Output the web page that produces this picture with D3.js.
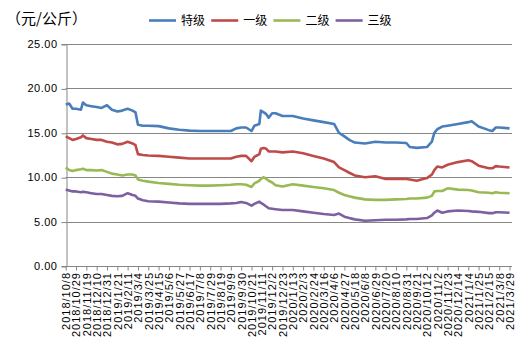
<!DOCTYPE html>
<html>
<head>
<meta charset="utf-8">
<script src="https://cdn.jsdelivr.net/npm/d3@7"></script>
<style>
  body { margin: 0; background: #fff; }
  svg { display: block; }
</style>
</head>
<body>
<div id="chart"></div>
<script>
// sample dates (price series)
const dates = [
  "2018/10/8","2018/10/15","2018/10/22","2018/10/29","2018/11/8","2018/11/12","2018/11/19","2018/11/29",
  "2018/12/10","2018/12/20","2018/12/31","2019/1/10","2019/1/21","2019/1/31","2019/2/11","2019/2/21",
  "2019/2/27","2019/3/4","2019/3/14","2019/3/25","2019/4/15","2019/5/6","2019/5/27","2019/6/17",
  "2019/7/8","2019/7/29","2019/8/19","2019/9/9","2019/9/20","2019/9/30","2019/10/10","2019/10/21",
  "2019/10/27","2019/11/6","2019/11/9","2019/11/15","2019/11/20","2019/11/25","2019/12/2","2019/12/9",
  "2019/12/23","2020/1/13","2020/2/3","2020/2/24","2020/3/16","2020/4/6","2020/4/16","2020/4/27",
  "2020/5/7","2020/5/18","2020/6/8","2020/6/29","2020/7/20","2020/8/10","2020/8/31","2020/9/7",
  "2020/9/21","2020/10/12","2020/10/22","2020/10/27","2020/11/2","2020/11/12","2020/11/23","2020/12/14",
  "2021/1/4","2021/1/11","2021/1/25","2021/2/15","2021/2/22","2021/3/1","2021/3/8","2021/3/29"
];

const teji = [
  18.2,18.3,17.7,17.7,17.6,18.4,18.1,18.0,
  17.9,17.8,18.1,17.6,17.4,17.5,17.7,17.5,
  17.3,15.9,15.8,15.8,15.75,15.5,15.35,15.25,
  15.2,15.2,15.2,15.2,15.5,15.6,15.6,15.2,
  15.8,16.0,17.5,17.3,17.1,16.7,17.2,17.2,
  16.9,16.9,16.6,16.4,16.2,16.0,15.0,14.6,
  14.2,13.9,13.8,14.0,13.9,13.9,13.85,13.4,
  13.3,13.4,14.0,15.0,15.4,15.7,15.8,16.0,
  16.2,16.3,15.7,15.3,15.2,15.6,15.6,15.5
];

const yiji = [
  14.6,14.4,14.2,14.3,14.5,14.7,14.4,14.3,
  14.2,14.2,14.0,13.9,13.7,13.75,14.0,13.8,
  13.6,12.6,12.5,12.45,12.4,12.3,12.2,12.1,
  12.1,12.1,12.1,12.1,12.3,12.4,12.4,11.8,
  12.3,12.6,13.2,13.3,13.2,12.9,12.9,12.9,
  12.8,12.9,12.7,12.4,12.1,11.7,11.1,10.8,
  10.5,10.2,10.0,10.1,9.8,9.8,9.8,9.75,
  9.6,9.9,10.3,10.8,11.2,11.1,11.4,11.7,
  11.9,11.8,11.3,11.0,11.0,11.25,11.2,11.1
];

const erji = [
  11.1,10.8,10.7,10.8,10.9,10.95,10.8,10.8,
  10.75,10.8,10.6,10.4,10.3,10.2,10.3,10.3,
  10.2,9.75,9.6,9.5,9.35,9.25,9.15,9.1,
  9.05,9.05,9.1,9.15,9.2,9.2,9.15,8.9,
  9.3,9.6,9.8,10.0,9.8,9.6,9.4,9.1,
  8.95,9.2,9.05,8.9,8.75,8.55,8.25,8.0,
  7.85,7.7,7.5,7.45,7.45,7.5,7.55,7.6,
  7.6,7.7,7.9,8.4,8.45,8.45,8.75,8.6,
  8.55,8.5,8.3,8.25,8.2,8.3,8.25,8.2
];

const sanji = [
  8.6,8.5,8.4,8.4,8.3,8.35,8.3,8.2,
  8.1,8.1,8.0,7.9,7.85,7.9,8.2,8.0,
  7.9,7.6,7.4,7.3,7.25,7.15,7.05,7.0,
  7.0,7.0,7.0,7.05,7.1,7.2,7.1,6.8,
  7.0,7.25,7.1,6.9,6.7,6.5,6.45,6.4,
  6.3,6.3,6.15,6.0,5.85,5.75,5.9,5.55,
  5.4,5.25,5.1,5.15,5.2,5.2,5.25,5.3,
  5.3,5.4,5.7,6.0,6.25,6.0,6.15,6.25,
  6.2,6.15,6.1,5.95,5.95,6.05,6.05,6.0
];

const seriesNames = ["特级", "一级", "二级", "三级"];
const seriesColors = ["#4a7ebb", "#be4b48", "#98b954", "#7d60a0"];

// x tick labels, every 21 days
const tickLabels = [
  "2018/10/8","2018/10/29","2018/11/19","2018/12/10","2018/12/31","2019/1/21","2019/2/11","2019/3/4",
  "2019/3/25","2019/4/15","2019/5/6","2019/5/27","2019/6/17","2019/7/8","2019/7/29","2019/8/19",
  "2019/9/9","2019/9/30","2019/10/21","2019/11/11","2019/12/2","2019/12/23","2020/1/13","2020/2/3",
  "2020/2/24","2020/3/16","2020/4/6","2020/4/27","2020/5/18","2020/6/8","2020/6/29","2020/7/20",
  "2020/8/10","2020/8/31","2020/9/21","2020/10/12","2020/11/2","2020/11/23","2020/12/14","2021/1/4",
  "2021/1/25","2021/2/15","2021/3/8","2021/3/29"
];
const yTicks = [0, 5, 10, 15, 20, 25];

const width = 528, height = 354;
const parse = d3.timeParse("%Y/%m/%d");

const svg = d3.select("#chart")
  .append("svg")
    .attr("width", width)
    .attr("height", height);

const x = d3.scaleTime()
  .domain([parse("2018/10/8"), parse("2021/4/3")])
  .range([65.7, 512]);

const y = d3.scaleLinear()
  .domain([0, 25])
  .range([266, 44]);

const grey = "#868686";

// horizontal grid
svg.append("g")
  .selectAll("line")
  .data(yTicks.slice(1))
  .join("line")
    .attr("x1", x.range()[0])
    .attr("x2", x.range()[1])
    .attr("y1", d => Math.round(y(d)) + 0.5)
    .attr("y2", d => Math.round(y(d)) + 0.5)
    .attr("stroke", grey)
    .attr("stroke-width", 1);

// y axis
const yAxis = svg.append("g")
  .attr("transform", `translate(${Math.round(x.range()[0]) + 0.5},0)`)
  .call(d3.axisLeft(y).tickValues(yTicks).tickFormat(d3.format(".2f")).tickSize(5).tickPadding(4));
yAxis.select(".domain").attr("stroke", grey);
yAxis.selectAll(".tick line").attr("stroke", grey).attr("transform", "translate(0,0.5)");
yAxis.selectAll("text")
  .attr("font-family", "'Liberation Sans', Arial, sans-serif")
  .attr("font-size", "11px")
  .attr("letter-spacing", "0.5px")
  .attr("fill", "#000");

// x axis
const xAxis = svg.append("g")
  .attr("transform", `translate(0,${Math.round(y(0)) + 0.5})`)
  .call(d3.axisBottom(x).tickValues(tickLabels.map(parse)).tickSize(4).tickFormat(""));
xAxis.select(".domain").attr("stroke", grey).attr("d", `M${x.range()[0]},0H${x.range()[1]}`);
xAxis.selectAll(".tick line").attr("stroke", grey);

svg.append("g")
  .selectAll("text")
  .data(tickLabels)
  .join("text")
    .attr("transform", d => `translate(${x(parse(d)) + 0.5},${Math.round(y(0)) + 6}) rotate(-90)`)
    .attr("text-anchor", "end")
    .attr("dy", "0.35em")
    .attr("font-family", "'Liberation Sans', Arial, sans-serif")
    .attr("font-size", "11px")
    .attr("letter-spacing", "1px")
    .attr("fill", "#000")
    .text(d => d);

// lines
const allSeries = [teji, yiji, erji, sanji];
const line = d3.line()
  .x((d, i) => x(parse(dates[i])))
  .y(d => y(d));

svg.append("g")
  .selectAll("path")
  .data(allSeries)
  .join("path")
    .attr("fill", "none")
    .attr("stroke", (d, i) => seriesColors[i])
    .attr("stroke-width", 2.6)
    .attr("stroke-linejoin", "round")
    .attr("d", line);

// unit title
svg.append("text")
  .attr("x", 6)
  .attr("y", 24)
  .attr("font-family", "'Noto Sans CJK SC', sans-serif")
  .attr("font-size", "15px")
  .attr("fill", "#000")
  .text("（元/公斤）");

// legend
const legend = svg.append("g")
  .selectAll("g")
  .data(seriesNames)
  .join("g")
    .attr("transform", (d, i) => `translate(${149 + i * 62.2},20.5)`);
legend.append("line")
  .attr("x1", 0).attr("x2", 27)
  .attr("stroke", (d, i) => seriesColors[i])
  .attr("stroke-width", 2.6);
legend.append("text")
  .attr("x", 32)
  .attr("dy", "0.36em")
  .attr("font-family", "'Noto Sans CJK SC', sans-serif")
  .attr("font-size", "12px")
  .attr("fill", "#000")
  .text(d => d);
</script>
</body>
</html>
